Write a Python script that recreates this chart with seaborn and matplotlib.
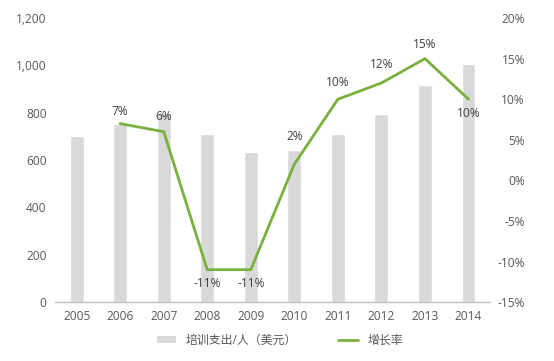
import numpy as np
import pandas as pd
import matplotlib
matplotlib.use("Agg")
import matplotlib.pyplot as plt
import matplotlib.ticker as mticker
from matplotlib.patches import Patch
from matplotlib.lines import Line2D
import seaborn as sns

years = ["2005", "2006", "2007", "2008", "2009", "2010", "2011", "2012", "2013", "2014"]
spend = [700, 752, 797, 710, 634, 642, 710, 794, 917, 1008]
growth_years = ["2006", "2007", "2008", "2009", "2010", "2011", "2012", "2013", "2014"]
growth = [7, 6, -11, -11, 2, 10, 12, 15, 10]
growth_labels = ["7%", "6%", "-11%", "-11%", "2%", "10%", "12%", "15%", "10%"]
label_offsets = [9, 11, -10, -10, 20, 12, 13, 10, -10]

bar_name = "培训支出/人（美元）"
line_name = "增长率"

sns.set_theme(style="white")
plt.rcParams['font.family'] = ['Open Sans', 'Noto Sans CJK SC', 'DejaVu Sans']

BAR = "#d9d9d9"
GREEN = "#7ab03e"
TXT = "#595959"
LAB = "#404040"
FS = 8.6

fig = plt.figure(figsize=(5.54, 3.61), dpi=100)
ax = fig.add_axes([0.099, 0.163, 0.786, 0.787])

df = pd.DataFrame({"year": years, "spend": spend})
sns.barplot(data=df, x="year", y="spend", color=BAR, width=0.32, ax=ax,
            saturation=1, order=years)
ax.set_ylim(0, 1200)
ax.set_xlim(-0.5, len(years) - 0.5)
ax.yaxis.set_major_locator(mticker.MultipleLocator(200))
ax.yaxis.set_major_formatter(mticker.FuncFormatter(lambda v, p: f"{int(v):,}"))
ax.set_xlabel("")
ax.set_ylabel("")
for s in ["top", "right", "left"]:
    ax.spines[s].set_visible(False)
ax.spines["bottom"].set_color("#bfbfbf")
ax.spines["bottom"].set_linewidth(1.0)
ax.tick_params(axis="both", length=0, labelsize=FS, colors=TXT, pad=6)

ax2 = ax.twinx()
pos = [years.index(y) for y in growth_years]
gdf = pd.DataFrame({"x": pos, "g": growth})
sns.lineplot(data=gdf, x="x", y="g", color=GREEN, linewidth=2, ax=ax2)
ax2.set_ylim(-15, 20)
ax2.set_xlim(-0.5, len(years) - 0.5)
pct_ticks = [-15, -10, -5, 0, 5, 10, 15, 20]
ax2.set_yticks(pct_ticks)
ax2.set_yticklabels([f"{t}%" for t in pct_ticks])
ax2.set_xlabel("")
ax2.set_ylabel("")
for s in ["top", "right", "left", "bottom"]:
    ax2.spines[s].set_visible(False)
ax2.tick_params(axis="both", length=0, labelsize=FS, colors=TXT, pad=25)
for t in ax2.get_yticklabels():
    t.set_horizontalalignment("right")

for x, g, lab, off in zip(pos, growth, growth_labels, label_offsets):
    ax2.annotate(lab, (x, g), xytext=(0, off), textcoords="offset points",
                 ha="center", va="center", fontsize=FS, color=LAB)

handles = [Patch(facecolor=BAR, edgecolor="none"),
           Line2D([0], [0], color=GREEN, linewidth=2)]
fig.legend(handles, [bar_name, line_name], loc="center", bbox_to_anchor=(0.505, 0.058),
           ncol=2, frameon=False, fontsize=FS, labelcolor=TXT, columnspacing=3.5,
           handlelength=1.6, handleheight=0.45)

fig.savefig("out.png", dpi=100)
